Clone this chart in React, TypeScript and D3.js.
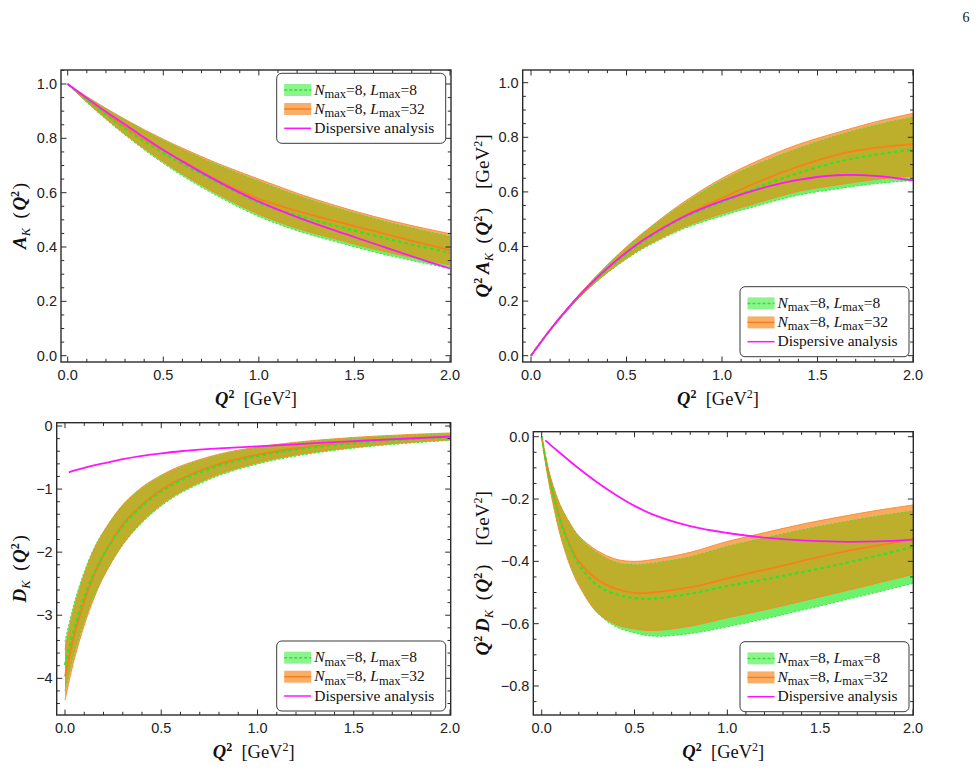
import React from 'react';
import * as d3 from 'd3';

// Q^2 grids (GeV^2)
const qA = [0, 0.1, 0.2, 0.3, 0.4, 0.5, 0.6, 0.8, 1.0, 1.2, 1.4, 1.6, 1.8, 2.0];
const qD = [0, 0.025, 0.05, 0.1, 0.15, 0.2, 0.3, 0.4, 0.5, 0.6, 0.8, 1.0, 1.2, 1.4, 1.6, 1.8, 2.0];
const qDisp = [0.02, 0.05, 0.1, 0.15, 0.2, 0.3, 0.4, 0.5, 0.6, 0.8, 1.0, 1.2, 1.4, 1.6, 1.8, 2.0];

// A_K(Q^2)
const aL8Hi = [1, 0.9525, 0.909, 0.868, 0.829, 0.793, 0.759, 0.697, 0.642, 0.59, 0.545, 0.505, 0.47, 0.439];
const aL8Mid = [1, 0.942, 0.887, 0.836, 0.789, 0.746, 0.706, 0.632, 0.563, 0.517, 0.478, 0.443, 0.409, 0.379];
const aL8Lo = [1, 0.932, 0.87, 0.812, 0.758, 0.708, 0.662, 0.581, 0.512, 0.46, 0.42, 0.382, 0.35, 0.321];
const aL32Hi = [1, 0.9536, 0.9104, 0.87, 0.832, 0.797, 0.764, 0.7034, 0.65, 0.598, 0.553, 0.513, 0.479, 0.449];
const aL32Mid = [1, 0.944, 0.891, 0.842, 0.797, 0.756, 0.717, 0.64, 0.577, 0.533, 0.495, 0.459, 0.423, 0.389];
const aL32Lo = [1, 0.934, 0.873, 0.816, 0.763, 0.714, 0.669, 0.589, 0.521, 0.469, 0.43, 0.393, 0.362, 0.334];
const aDisp = [1, 0.948, 0.898, 0.851, 0.803, 0.757, 0.715, 0.636, 0.567, 0.51, 0.46, 0.413, 0.366, 0.321];

// Q^2 A_K(Q^2)
const qaL8Hi = [0, 0.095, 0.182, 0.26, 0.331, 0.396, 0.455, 0.557, 0.642, 0.706, 0.76, 0.806, 0.844, 0.873];
const qaL8Mid = [0, 0.094, 0.177, 0.251, 0.316, 0.373, 0.424, 0.506, 0.563, 0.62, 0.669, 0.709, 0.736, 0.755];
const qaL8Lo = [0, 0.093, 0.174, 0.244, 0.303, 0.354, 0.397, 0.465, 0.512, 0.552, 0.588, 0.611, 0.63, 0.642];
const qaL32Hi = [0, 0.095, 0.182, 0.261, 0.333, 0.399, 0.458, 0.563, 0.65, 0.718, 0.774, 0.817, 0.856, 0.888];
const qaL32Mid = [0, 0.094, 0.178, 0.253, 0.319, 0.378, 0.43, 0.512, 0.577, 0.64, 0.693, 0.736, 0.761, 0.775];
const qaL32Lo = [0, 0.093, 0.175, 0.245, 0.305, 0.357, 0.401, 0.471, 0.521, 0.563, 0.602, 0.625, 0.645, 0.658];
const qaDisp = [0, 0.0948, 0.18, 0.255, 0.321, 0.379, 0.429, 0.509, 0.567, 0.612, 0.644, 0.661, 0.659, 0.642];

// D_K(Q^2)
const dL8Hi = [-3.42, -3.08, -2.78, -2.31, -1.94, -1.67, -1.255, -0.985, -0.795, -0.652, -0.462, -0.345, -0.268, -0.214, -0.175, -0.146, -0.123];
const dL8Mid = [-3.79, -3.47, -3.19, -2.71, -2.34, -2.04, -1.59, -1.27, -1.04, -0.867, -0.629, -0.477, -0.374, -0.302, -0.248, -0.208, -0.176];
const dL8Lo = [-4.2, -3.876, -3.587, -3.1, -2.7, -2.38, -1.887, -1.532, -1.268, -1.067, -0.786, -0.603, -0.477, -0.387, -0.32, -0.269, -0.229];
const dL32Hi = [-3.55, -3.18, -2.86, -2.36, -1.97, -1.68, -1.25, -0.97, -0.78, -0.635, -0.447, -0.333, -0.257, -0.203, -0.163, -0.133, -0.11];
const dL32Mid = [-3.97, -3.61, -3.29, -2.78, -2.37, -2.05, -1.56, -1.25, -1.01, -0.84, -0.6, -0.455, -0.353, -0.283, -0.232, -0.194, -0.165];
const dL32Lo = [-4.35, -3.995, -3.68, -3.157, -2.736, -2.394, -1.878, -1.513, -1.244, -1.042, -0.761, -0.58, -0.456, -0.369, -0.304, -0.255, -0.217];
const dDisp = [-0.734, -0.705, -0.662, -0.625, -0.592, -0.525, -0.473, -0.433, -0.4, -0.356, -0.322, -0.29, -0.255, -0.225, -0.196, -0.169];

// Q^2 D_K(Q^2)
const qdL8Hi = [0, -0.075, -0.135, -0.22, -0.277, -0.322, -0.373, -0.403, -0.411, -0.406, -0.385, -0.352, -0.325, -0.299, -0.276, -0.256, -0.238];
const qdL8Mid = [0, -0.087, -0.155, -0.27, -0.35, -0.41, -0.477, -0.506, -0.518, -0.52, -0.504, -0.479, -0.458, -0.435, -0.41, -0.383, -0.353];
const qdL8Lo = [0, -0.097, -0.179, -0.31, -0.405, -0.472, -0.565, -0.61, -0.63, -0.64, -0.632, -0.61, -0.585, -0.557, -0.529, -0.5, -0.471];
const qdL32Hi = [0, -0.075, -0.135, -0.22, -0.275, -0.318, -0.366, -0.393, -0.4, -0.394, -0.371, -0.336, -0.308, -0.281, -0.258, -0.237, -0.219];
const qdL32Mid = [0, -0.088, -0.155, -0.265, -0.345, -0.4, -0.458, -0.488, -0.501, -0.5, -0.483, -0.455, -0.427, -0.399, -0.372, -0.35, -0.329];
const qdL32Lo = [0, -0.1, -0.184, -0.316, -0.41, -0.477, -0.565, -0.602, -0.617, -0.622, -0.608, -0.581, -0.556, -0.528, -0.5, -0.471, -0.442];
const qdDisp = [-0.012, -0.028, -0.053, -0.078, -0.102, -0.147, -0.187, -0.222, -0.25, -0.287, -0.309, -0.324, -0.333, -0.337, -0.336, -0.33];

const xMajor = [0, 0.5, 1, 1.5, 2];
const yMajorA = [0, 0.2, 0.4, 0.6, 0.8, 1.0];
const yMajorD = [0, -1, -2, -3, -4];
const yMajorQD = [0, -0.2, -0.4, -0.6, -0.8];

const SANS = '"Liberation Sans", Arial, sans-serif';
const SERIF = '"Liberation Serif", "Times New Roman", serif';

const C = {
  greenFill: '#6DF26D',
  greenEdge: '#3FE03F',
  greenLine: '#2EE22E',
  greenSwatch: '#8CF48C',
  orangeFill: '#FAAA5E',
  orangeEdge: '#F68A2C',
  orangeLine: '#FA7F1A',
  orangeSwatch: '#F9AE68',
  overlap: '#BDAF2B',
  magenta: '#FF14FF',
  frame: '#2b2b2b',
};

type Band = { q: number[]; lo: number[]; hi: number[]; mid: number[] };

interface PanelProps {
  id: string;
  frame: { left: number; top: number; right: number; bottom: number };
  xRange: [number, number];
  yDomain: [number, number];
  yRange: [number, number];
  yMajor: number[];
  yMinorStep: number;
  yFormat: (v: number) => string;
  l8: Band;
  l32: Band;
  disp: { q: number[]; v: number[] };
  legend: { x: number; y: number };
  yTitle: React.ReactNode;
  yTitleX: number;
}

const fmt1 = (v: number) => (v < 0 ? '\u2212' : '') + Math.abs(v).toFixed(1);
const fmt0 = (v: number) => (v < 0 ? '\u2212' : '') + Math.abs(v).toFixed(0);

const SUP = 12;
const SUB = 12.5;
const curve = d3.curveCatmullRom.alpha(0.5);

// "Q^2 [GeV^2]"
const XTitle = () => (
  <>
    <tspan fontWeight="bold" fontStyle="italic">Q</tspan>
    <tspan fontSize={SUP} fontWeight="bold" dy="-7">2</tspan>
    <tspan dy="7">{'\u2002[GeV'}</tspan>
    <tspan fontSize={SUP} dy="-7">2</tspan>
    <tspan dy="7">]</tspan>
  </>
);

// "A_K (Q^2)" or "Q^2 A_K (Q^2) [GeV^2]"
const YTitle = ({ sym, scaled }: { sym: string; scaled?: boolean }) => (
  <>
    {scaled && (
      <>
        <tspan fontWeight="bold" fontStyle="italic">Q</tspan>
        <tspan fontSize={SUP} fontWeight="bold" dy="-7">2</tspan>
      </>
    )}
    <tspan fontWeight="bold" fontStyle="italic" dy={scaled ? 7 : 0}>{scaled ? '\u2009' + sym : sym}</tspan>
    <tspan fontStyle="italic" fontSize={SUB} dy="4">K</tspan>
    <tspan dy="-4">{'\u2002(\u200a'}</tspan>
    <tspan fontWeight="bold" fontStyle="italic">Q</tspan>
    <tspan fontSize={SUP} fontWeight="bold" dy="-7">2</tspan>
    <tspan dy="7">{'\u200a)'}</tspan>
    {scaled && (
      <>
        <tspan>{'\u2003[GeV'}</tspan>
        <tspan fontSize={SUP} dy="-7">2</tspan>
        <tspan dy="7">]</tspan>
      </>
    )}
  </>
);

const Legend = ({ x, y }: { x: number; y: number }) => {
  const rows = [16.7, 35.7, 55];
  const sw = 27;
  const sx = x + 7.5;
  const tx = x + 37.5;
  const entry = (lmax: string) => (
    <>
      <tspan fontStyle="italic">N</tspan>
      <tspan fontSize={SUB} dy="3.5">max</tspan>
      <tspan dy="-3.5">=8, </tspan>
      <tspan fontStyle="italic">L</tspan>
      <tspan fontSize={SUB} dy="3.5">max</tspan>
      <tspan dy="-3.5">{'=' + lmax}</tspan>
    </>
  );
  return (
    <g>
      <rect x={x} y={y} width={169} height={70} rx={5} fill="white" stroke="#3a3a3a" strokeWidth={1} />
      <rect x={sx} y={y + rows[0] - 6} width={sw} height={12} fill={C.greenSwatch} />
      <line x1={sx} x2={sx + sw} y1={y + rows[0]} y2={y + rows[0]} stroke={C.greenLine} strokeWidth={1.5} strokeDasharray="3 2" />
      <rect x={sx} y={y + rows[1] - 6} width={sw} height={12} fill={C.orangeSwatch} />
      <line x1={sx} x2={sx + sw} y1={y + rows[1]} y2={y + rows[1]} stroke={C.orangeLine} strokeWidth={1.5} />
      <line x1={sx} x2={sx + sw} y1={y + rows[2]} y2={y + rows[2]} stroke={C.magenta} strokeWidth={1.5} />
      <g fontFamily={SERIF} fontSize="15.5" fill="#111">
        <text x={tx} y={y + rows[0] + 4.5}>{entry('8')}</text>
        <text x={tx} y={y + rows[1] + 4.5}>{entry('32')}</text>
        <text x={tx} y={y + rows[2] + 4.5}>Dispersive analysis</text>
      </g>
    </g>
  );
};

const Panel = (p: PanelProps) => {
  const { frame: f } = p;
  const x = d3.scaleLinear().domain([0, 2]).range(p.xRange);
  const y = d3.scaleLinear().domain(p.yDomain).range(p.yRange);

  const area = (b: Band, lo: number[], hi: number[]) =>
    d3
      .area<number>()
      .x((i) => x(b.q[i]))
      .y0((i) => y(lo[i]))
      .y1((i) => y(hi[i]))
      .curve(curve)(d3.range(b.q.length)) as string;
  const line = (qs: number[], vs: number[]) =>
    d3
      .line<number>()
      .x((i) => x(qs[i]))
      .y((i) => y(vs[i]))
      .curve(curve)(d3.range(qs.length)) as string;

  const greenArea = area(p.l8, p.l8.lo, p.l8.hi);
  const orangeArea = area(p.l32, p.l32.lo, p.l32.hi);

  // minor ticks over the visible frame
  const yLo = Math.min(y.invert(f.bottom), y.invert(f.top));
  const yHi = Math.max(y.invert(f.bottom), y.invert(f.top));
  const s = p.yMinorStep;
  const yMinor = d3
    .range(Math.ceil(yLo / s - 1e-6), Math.floor(yHi / s + 1e-6) + 1)
    .map((k) => k * s)
    .filter((v) => !p.yMajor.some((m) => Math.abs(m - v) < 1e-6));
  const xMinor = d3
    .range(0, 21)
    .map((k) => k / 10)
    .filter((v) => !xMajor.some((m) => Math.abs(m - v) < 1e-6));

  const majL = 5.5;
  const minL = 3.2;
  const cx = (f.left + f.right) / 2;
  const cy = (f.top + f.bottom) / 2;

  return (
    <g>
      <defs>
        <clipPath id={`plot-${p.id}`}>
          <rect x={f.left} y={f.top} width={f.right - f.left} height={f.bottom - f.top} />
        </clipPath>
        <clipPath id={`green-${p.id}`}>
          <path d={greenArea} />
        </clipPath>
      </defs>
      <g clipPath={`url(#plot-${p.id})`}>
        <path d={greenArea} fill={C.greenFill} />
        <path d={orangeArea} fill={C.orangeFill} />
        <path d={orangeArea} fill={C.overlap} clipPath={`url(#green-${p.id})`} />
        <path d={line(p.l8.q, p.l8.hi)} fill="none" stroke={C.greenEdge} strokeWidth={1} strokeDasharray="2 2" />
        <path d={line(p.l8.q, p.l8.lo)} fill="none" stroke={C.greenEdge} strokeWidth={1} strokeDasharray="2 2" />
        <path d={line(p.l32.q, p.l32.hi)} fill="none" stroke={C.orangeEdge} strokeWidth={0.9} />
        <path d={line(p.l32.q, p.l32.lo)} fill="none" stroke={C.orangeEdge} strokeWidth={0.9} />
        <path d={line(p.l32.q, p.l32.mid)} fill="none" stroke={C.orangeLine} strokeWidth={1.8} />
        <path d={line(p.l8.q, p.l8.mid)} fill="none" stroke={C.greenLine} strokeWidth={2.2} strokeDasharray="3.5 3" />
        <path d={line(p.disp.q, p.disp.v)} fill="none" stroke={C.magenta} strokeWidth={1.8} />
      </g>

      {/* frame ticks on all four sides, pointing inward */}
      <g stroke={C.frame} strokeWidth={1}>
        {xMajor.map((v) => (
          <g key={`xM${v}`}>
            <line x1={x(v)} x2={x(v)} y1={f.bottom} y2={f.bottom - majL} />
            <line x1={x(v)} x2={x(v)} y1={f.top} y2={f.top + majL} />
          </g>
        ))}
        {xMinor.map((v) => (
          <g key={`xm${v}`}>
            <line x1={x(v)} x2={x(v)} y1={f.bottom} y2={f.bottom - minL} />
            <line x1={x(v)} x2={x(v)} y1={f.top} y2={f.top + minL} />
          </g>
        ))}
        {p.yMajor.map((v) => (
          <g key={`yM${v}`}>
            <line x1={f.left} x2={f.left + majL} y1={y(v)} y2={y(v)} />
            <line x1={f.right} x2={f.right - majL} y1={y(v)} y2={y(v)} />
          </g>
        ))}
        {yMinor.map((v) => (
          <g key={`ym${v}`}>
            <line x1={f.left} x2={f.left + minL} y1={y(v)} y2={y(v)} />
            <line x1={f.right} x2={f.right - minL} y1={y(v)} y2={y(v)} />
          </g>
        ))}
      </g>
      <rect x={f.left} y={f.top} width={f.right - f.left} height={f.bottom - f.top} fill="none" stroke={C.frame} strokeWidth={1.4} />

      <Legend x={p.legend.x} y={p.legend.y} />

      {/* tick labels */}
      <g fontFamily={SANS} fontSize="14.5" fill="#222">
        {xMajor.map((v) => (
          <text key={`xl${v}`} x={x(v)} y={f.bottom + 17.5} textAnchor="middle">
            {v.toFixed(1)}
          </text>
        ))}
        {p.yMajor.map((v) => (
          <text key={`yl${v}`} x={f.left - 4} y={y(v) + 5} textAnchor="end">
            {p.yFormat(v)}
          </text>
        ))}
      </g>

      {/* axis titles */}
      <text x={cx} y={f.bottom + 42.5} textAnchor="middle" fontFamily={SERIF} fontSize="18.5" fill="#111">
        <XTitle />
      </text>
      <text
        transform={`translate(${p.yTitleX},${cy}) rotate(-90)`}
        textAnchor="middle"
        fontFamily={SERIF}
        fontSize="19"
        fill="#111"
      >
        {p.yTitle}
      </text>
    </g>
  );
};

export default function App() {
  return (
    <svg
      width={979}
      height={771}
      viewBox="0 0 979 771"
      style={{ position: 'absolute', left: 0, top: 0, background: 'white' }}
    >
      <rect width={979} height={771} fill="white" />
      <text x={966} y={22} textAnchor="middle" fontFamily={SERIF} fontSize="14" fill="#111">6</text>

      <Panel
        id="a"
        frame={{ left: 61, top: 70, right: 451, bottom: 362 }}
        xRange={[67.7, 450]}
        yDomain={[0, 1]}
        yRange={[355.7, 84]}
        yMajor={yMajorA}
        yMinorStep={0.05}
        yFormat={fmt1}
        l8={{ q: qA, lo: aL8Lo, hi: aL8Hi, mid: aL8Mid }}
        l32={{ q: qA, lo: aL32Lo, hi: aL32Hi, mid: aL32Mid }}
        disp={{ q: qA, v: aDisp }}
        legend={{ x: 276.7, y: 73.3 }}
        yTitle={<YTitle sym="A" />}
        yTitleX={26}
      />
      <Panel
        id="qa"
        frame={{ left: 522.7, top: 70, right: 913.3, bottom: 362 }}
        xRange={[531, 913]}
        yDomain={[0, 1]}
        yRange={[355.7, 82.7]}
        yMajor={yMajorA}
        yMinorStep={0.05}
        yFormat={fmt1}
        l8={{ q: qA, lo: qaL8Lo, hi: qaL8Hi, mid: qaL8Mid }}
        l32={{ q: qA, lo: qaL32Lo, hi: qaL32Hi, mid: qaL32Mid }}
        disp={{ q: qA, v: qaDisp }}
        legend={{ x: 740, y: 286.7 }}
        yTitle={<YTitle sym="A" scaled />}
        yTitleX={489}
      />
      <Panel
        id="d"
        frame={{ left: 56.7, top: 422.7, right: 450.7, bottom: 715 }}
        xRange={[65, 450]}
        yDomain={[0, -4]}
        yRange={[426, 678.3]}
        yMajor={yMajorD}
        yMinorStep={0.2}
        yFormat={fmt0}
        l8={{ q: qD, lo: dL8Lo, hi: dL8Hi, mid: dL8Mid }}
        l32={{ q: qD, lo: dL32Lo, hi: dL32Hi, mid: dL32Mid }}
        disp={{ q: qDisp, v: dDisp }}
        legend={{ x: 276.7, y: 641 }}
        yTitle={<YTitle sym="D" />}
        yTitleX={26}
      />
      <Panel
        id="qd"
        frame={{ left: 533.3, top: 431.7, right: 913.3, bottom: 715 }}
        xRange={[541.7, 913]}
        yDomain={[0, -0.8]}
        yRange={[436.7, 686]}
        yMajor={yMajorQD}
        yMinorStep={0.05}
        yFormat={fmt1}
        l8={{ q: qD, lo: qdL8Lo, hi: qdL8Hi, mid: qdL8Mid }}
        l32={{ q: qD, lo: qdL32Lo, hi: qdL32Hi, mid: qdL32Mid }}
        disp={{ q: qDisp, v: qdDisp }}
        legend={{ x: 740, y: 641.7 }}
        yTitle={<YTitle sym="D" scaled />}
        yTitleX={489}
      />
    </svg>
  );
}
